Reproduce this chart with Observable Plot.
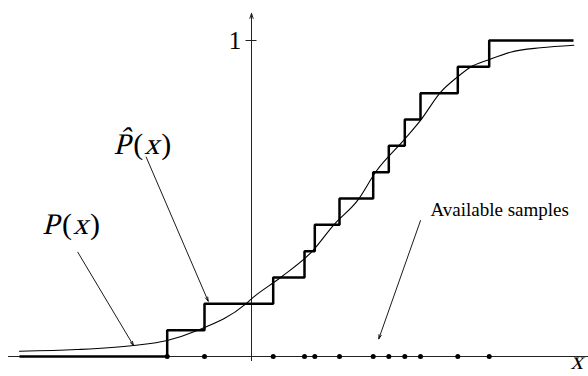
<!DOCTYPE html>
<html>
<head>
<meta charset="utf-8">
<script src="https://cdn.jsdelivr.net/npm/d3@7"></script>
<script src="https://cdn.jsdelivr.net/npm/@observablehq/plot@0.6"></script>
<style>
  body { margin: 0; background: #fff; }
  #chart svg { display: block; }
  #chart svg text { font-family: "Liberation Serif", "DejaVu Serif", serif !important; font-style: normal; }
</style>
</head>
<body>
<div id="chart"></div>
<script>
// Observed samples (positions along the x axis)
const samples = [-0.843, -0.47, 0.217, 0.53, 0.633, 0.88, 1.217, 1.373, 1.533, 1.69, 2.063, 2.377];

// Where the empirical step function begins and ends
const ecdfStart = -2.32;
const ecdfEnd = 3.22;

// True distribution P(x)
const curveX = [-2.32, -1.75, -1.18, -0.843, -0.543, -0.06, 0, 0.29, 0.607, 0.823, 1.073, 1.24, 1.53, 1.69, 1.89, 2.057, 2.19, 2.373, 2.59, 2.89, 3.223];
const curveP = [0.0168, 0.022, 0.0348, 0.0506, 0.0823, 0.1655, 0.1826, 0.25, 0.333, 0.4168, 0.499, 0.583, 0.687, 0.747, 0.836, 0.884, 0.9155, 0.939, 0.963, 0.977, 0.985];

// Annotation labels and their leader arrows
const labelText = ["P(x)", "P\u0302(x)", "Available samples"];
const labelX = [-2.093, -1.38, 1.79];
const labelY = [0.388, 0.6415, 0.444];
const leaderFrom = [[-1.737, 0.330], [-1.053, 0.631], [1.69, 0.430]];
const leaderTo = [[-1.18, 0.0348], [-0.433, 0.175], [1.273, 0.056]];

// Axis extents and labels
const xAxisFrom = -2.43, xAxisTo = 3.37;
const yAxisFrom = -0.013, yAxisTo = 1.086;
const yTicks = [1];
const yTickLabels = ["1"];
const xAxisLabel = "x";

// Step function table: start at 0, rise by 1/n at each sample
const n = samples.length;
const steps = [{x: ecdfStart, y: 0}]
  .concat(samples.map((s, i) => ({x: s, y: (i + 1) / n})))
  .concat([{x: ecdfEnd, y: 1}]);
const curve = curveX.map((x, i) => ({x, y: curveP[i]}));
const leaders = leaderFrom.map((f, i) => ({x1: f[0], y1: f[1], x2: leaderTo[i][0], y2: leaderTo[i][1]}));
const labels = labelText.map((t, i) => ({t, x: labelX[i], y: labelY[i]}));

const serif = "Liberation Serif";

const chart = Plot.plot({
  width: 588,
  height: 376,
  style: {background: "#fff", fontFamily: "Liberation Serif, serif"},
  x: {domain: [-2.51, 3.37], range: [0, 588], axis: null},
  y: {domain: [0, 1], range: [356, 40], axis: null},
  marks: [
    // horizontal axis
    Plot.ruleY([0], {x1: xAxisFrom, x2: xAxisTo, stroke: "#222", strokeWidth: 1}),
    // vertical axis with arrow
    Plot.arrow([0], {x1: 0, x2: 0, y1: yAxisFrom, y2: yAxisTo, stroke: "#222", strokeWidth: 1, headLength: 8, headAngle: 36}),
    // tick at 1
    Plot.ruleY(yTicks, {x1: -0.055, x2: 0.055, stroke: "#222", strokeWidth: 1}),
    Plot.text(yTickLabels, {x: -0.165, y: yTicks, text: d => d, fontSize: 25, fontFamily: serif, lineAnchor: "middle", fill: "#000"}),
    // true distribution
    Plot.line(curve, {x: "x", y: "y", curve: "monotone-x", stroke: "#000", strokeWidth: 1.1}),
    // empirical distribution
    Plot.line(steps, {x: "x", y: "y", curve: "step-after", stroke: "#000", strokeWidth: 2.5, strokeLinejoin: "miter", strokeLinecap: "butt"}),
    // samples
    Plot.dot(samples, {x: d => d, y: 0, r: 2.5, fill: "#000", stroke: null}),
    // leaders
    Plot.arrow(leaders, {x1: "x1", y1: "y1", x2: "x2", y2: "y2", stroke: "#000", strokeWidth: 0.9, headLength: 7, headAngle: 34}),
    // labels
    Plot.text(labels.slice(0, 2), {x: "x", y: "y", text: "t", fontSize: 30, fontFamily: serif, textAnchor: "start", lineAnchor: "bottom", fill: "#000"}),
    Plot.text(labels.slice(2), {x: "x", y: "y", text: "t", fontSize: 19, fontFamily: serif, textAnchor: "start", lineAnchor: "bottom", fill: "#000"}),
    // axis variable
    Plot.text([xAxisLabel], {x: 3.19, y: -0.041, text: d => d, fontSize: 25, fontFamily: serif, textAnchor: "start", lineAnchor: "bottom", fill: "#000"})
  ]
});

document.getElementById("chart").appendChild(chart);

// Math labels: slanted letters, upright parentheses
const mathParts = {
  "P(x)": [["P", true, 3], ["(", false, 1], ["x", true, 2], [")", false, 0]],
  "P\u0302(x)": [["P\u0302", true, 3], ["(", false, 1], ["x", true, 2], [")", false, 0]],
  "x": [["x", true, 0]]
};
d3.select(chart).selectAll("text").each(function () {
  const parts = mathParts[this.textContent];
  if (!parts) return;
  let tf = this.getAttribute("transform");
  if (!tf) tf = `translate(${this.getAttribute("x") || 0},${this.getAttribute("y") || 0})`;
  const g = d3.select(this.parentNode).append("g").attr("transform", tf);
  let ox = 0;
  for (const [s, slanted, gap] of parts) {
    const el = g.append("text")
      .attr("transform", slanted ? `translate(${ox},0) skewX(-14)` : `translate(${ox},0)`)
      .text(s);
    ox += el.node().getComputedTextLength() + gap;
  }
  d3.select(this).remove();
});
</script>
</body>
</html>
